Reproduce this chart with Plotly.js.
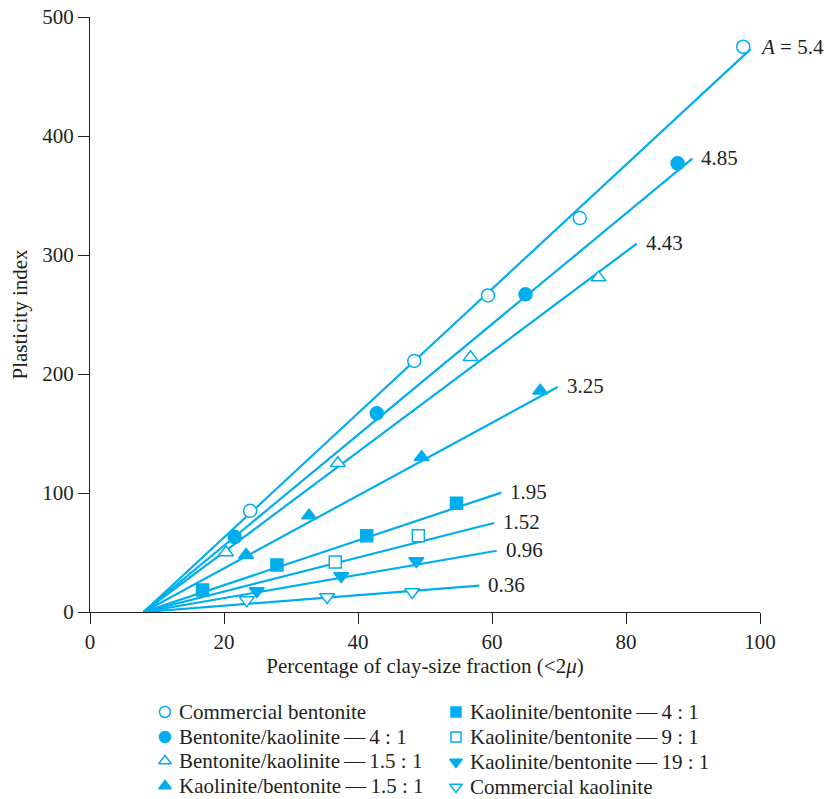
<!DOCTYPE html>
<html>
<head>
<meta charset="utf-8">
<script src="https://cdn.plot.ly/plotly-3.0.1.min.js"></script>
<style>html,body{margin:0;padding:0;background:#fff;}#chart{width:831px;height:799px;}</style>
</head>
<body>
<div id="chart"></div>
<script>
// ---- data ----
const cbX = [23.9, 48.4, 59.4, 73.1, 97.5];
const cbY = [85, 211, 266, 331, 475];
const bk41X = [21.6, 42.8, 65.0, 87.7];
const bk41Y = [63, 167, 267, 377];
const bk15X = [20.3, 37.0, 56.8, 75.9];
const bk15Y = [50, 125, 214, 281];
const kb15X = [23.3, 32.7, 49.5, 67.2];
const kb15Y = [48, 81, 130, 186];
const kb41X = [16.8, 27.9, 41.3, 54.7];
const kb41Y = [18.5, 39.5, 64, 91.3];
const kb91X = [36.6, 49.0];
const kb91Y = [42, 64];
const kb191X = [24.9, 37.5, 48.7];
const kb191Y = [17.6, 30.3, 42.9];
const ckX = [23.4, 35.4, 48.1];
const ckY = [10, 12.6, 16.8];

const lineLabels = ['<i>A</i> = 5.4', '4.85', '4.43', '3.25', '1.95', '1.52', '0.96', '0.36'];
const lineStartX = 8;
const lineStartY = 0;
const lineEndX = [98.6, 89.9, 81.6, 69.8, 61.4, 60.3, 60.7, 58.1];
const lineEndY = [473, 381, 309.5, 189, 100.3, 74.8, 51.5, 22.1];

const seriesNames = [
  'Commercial bentonite',
  'Bentonite/kaolinite\u2009\u2014\u20094 : 1',
  'Bentonite/kaolinite\u2009\u2014\u20091.5 : 1',
  'Kaolinite/bentonite\u2009\u2014\u20091.5 : 1',
  'Kaolinite/bentonite\u2009\u2014\u20094 : 1',
  'Kaolinite/bentonite\u2009\u2014\u20099 : 1',
  'Kaolinite/bentonite\u2009\u2014\u200919 : 1',
  'Commercial kaolinite'
];
const xTicks = [0, 20, 40, 60, 80, 100];
const yTicks = [0, 100, 200, 300, 400, 500];

// ---- styling / layout constants ----
const C = '#00aeef';
const TXT = '#231f20';
const FONT = 'Liberation Serif, Times New Roman, serif';
const FS = 21;
const W = 831, H = 799;
const ML = 90, MR = 71, MT = 17, MB = 0;
const plotBottomPx = 612;           // pixel row of y = 0
const plotH = H - MT - MB;
const mainDomainBottom = (H - MB - plotBottomPx) / plotH;

const symbols = ['circle', 'circle', 'triangle-up', 'triangle-up', 'square', 'square', 'triangle-down', 'triangle-down'];
const filled = [false, true, false, true, true, false, true, false];
// legend layout (pixel positions in the page, on a helper axis pair)
const legMarkerX = [165, 165, 165, 165, 456, 456, 456, 456];
const legTextX = [178, 178, 178, 178, 469, 469, 469, 469];
const legRowY = [712, 737, 761, 786, 712, 737, 762, 787];

const traces = [];
for (let i = 0; i < lineEndX.length; i++) {
  traces.push({
    x: [lineStartX, lineEndX[i]], y: [lineStartY, lineEndY[i]],
    mode: 'lines', line: {color: C, width: 2.2}, showlegend: false, hoverinfo: 'skip'
  });
}
const seriesX = [cbX, bk41X, bk15X, kb15X, kb41X, kb91X, kb191X, ckX];
const seriesY = [cbY, bk41Y, bk15Y, kb15Y, kb41Y, kb91Y, kb191Y, ckY];
function markerFor(i, big) {
  const sq = symbols[i] === 'square';
  return {symbol: symbols[i], size: big ? (sq ? 12 : 13) : (sq ? 10 : 11),
          color: filled[i] ? C : '#ffffff', line: {color: C, width: 1.5}};
}
seriesX.forEach((sx, i) => {
  traces.push({x: sx, y: seriesY[i], name: seriesNames[i], mode: 'markers',
               marker: markerFor(i, true), showlegend: false, hoverinfo: 'skip'});
});
// custom legend drawn on helper axes
seriesNames.forEach((nm, i) => {
  traces.push({x: [legMarkerX[i]], y: [legRowY[i]], xaxis: 'x2', yaxis: 'y2', name: nm,
               mode: 'markers', marker: markerFor(i, false), showlegend: false, hoverinfo: 'skip'});
});

const annotations = lineLabels.map((t, i) => ({
  x: lineEndX[i], y: lineEndY[i], text: t, showarrow: false,
  xanchor: 'left', yanchor: 'middle', xshift: 7, yshift: i === 0 ? 2 : 1,
  font: {family: FONT, size: FS, color: TXT}
}));
seriesNames.forEach((nm, i) => {
  annotations.push({x: legTextX[i], y: legRowY[i], xref: 'x2', yref: 'y2', text: nm,
    showarrow: false, xanchor: 'left', yanchor: 'middle', borderpad: 0,
    font: {family: FONT, size: FS, color: TXT}});
});

const axisCommon = {
  showgrid: false, zeroline: false, showline: true, linecolor: TXT, linewidth: 1,
  ticks: 'outside', ticklen: 11, tickwidth: 1, tickcolor: TXT,
  tickfont: {family: FONT, size: FS, color: TXT}
};

const layout = {
  width: W, height: H,
  margin: {l: ML, r: MR, t: MT, b: MB, autoexpand: false},
  paper_bgcolor: '#fff', plot_bgcolor: 'rgba(0,0,0,0)',
  font: {family: FONT, color: TXT, size: FS},
  showlegend: false,
  xaxis: Object.assign({}, axisCommon, {
    range: [0, 100], tickvals: xTicks, ticktext: xTicks.map(String), anchor: 'y',
    title: {text: 'Percentage of clay-size fraction (&lt;2<i>\u03bc</i>)', font: {family: FONT, size: FS, color: TXT}, standoff: 4}
  }),
  yaxis: Object.assign({}, axisCommon, {
    range: [0, 500], tickvals: yTicks, ticktext: yTicks.map(String),
    domain: [mainDomainBottom, 1], anchor: 'x',
    title: {text: 'Plasticity index', font: {family: FONT, size: FS, color: TXT}, standoff: 8}
  }),
  xaxis2: {domain: [0, 1], range: [ML, W - MR], anchor: 'y2', visible: false, fixedrange: true},
  yaxis2: {domain: [0, mainDomainBottom], range: [H - MB, plotBottomPx], anchor: 'x2', visible: false, fixedrange: true},
  annotations: annotations
};

Plotly.newPlot('chart', traces, layout, {displayModeBar: false, staticPlot: true});
</script>
</body>
</html>
